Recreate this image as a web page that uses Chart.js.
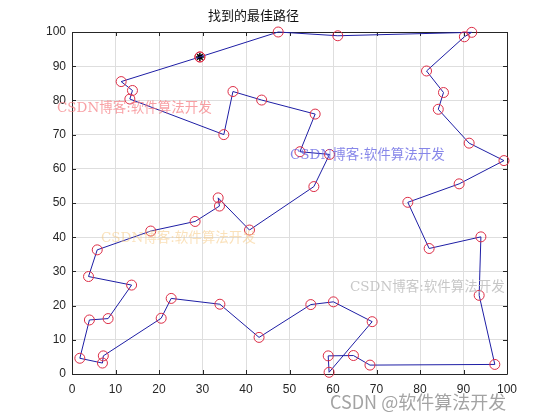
<!DOCTYPE html>
<html>
<head>
<meta charset="utf-8">
<script src="https://cdn.jsdelivr.net/npm/chart.js@4/dist/chart.umd.min.js"></script>
<style>
  html,body{margin:0;padding:0;background:#fff;}
  #wrap{width:560px;height:420px;}
</style>
</head>
<body>
<div id="wrap"><canvas id="chart" width="560" height="420"></canvas></div>
<script>
// 路径坐标 (从起点出发，最后回到起点)
const routeX = [29.4, 47.4, 61.1, 91.9, 90.2, 81.5, 85.4, 84.2, 91.3, 99.3, 89.0, 77.2, 82.1, 94.0, 93.6, 97.2,
  68.5, 64.7, 58.9, 59.1, 69.0, 60.1, 54.9, 43.0, 34.0, 22.8, 20.5, 7.2, 7.0, 1.8, 4.0, 8.3, 13.7, 3.8, 5.8,
  18.1, 28.3, 33.9, 33.6, 40.8, 55.6, 59.2, 52.4, 55.9, 43.6, 37.0, 34.9, 13.3, 13.9, 11.3, 29.4]
const routeY = [92.7, 100, 98.9, 99.9, 98.6, 88.6, 82.3, 77.4, 67.5, 62.4, 55.6, 50.2, 36.7, 40.1, 23.0, 2.8,
  2.6, 5.4, 5.3, 0.5, 15.3, 21.1, 20.3, 10.7, 20.4, 22.1, 16.3, 5.3, 3.2, 4.6, 15.8, 16.2, 26.0, 28.5, 36.3,
  41.8, 44.6, 49.1, 51.5, 42.1, 54.8, 64.2, 65.0, 76.0, 80.1, 82.6, 70.0, 80.4, 82.9, 85.5, 92.7]
// 起点
const startX = [29.4]
const startY = [92.7]
// 刻度
const xTicks = [0, 10, 20, 30, 40, 50, 60, 70, 80, 90, 100]
const yTicks = [0, 10, 20, 30, 40, 50, 60, 70, 80, 90, 100]
const titleText = '找到的最佳路径'
const markText = 'CSDN博客:软件算法开发'
const footText = 'CSDN @软件算法开发'

const routePts = routeX.map((x, i) => ({x: x, y: routeY[i]}))
const startPts = startX.map((x, i) => ({x: x, y: startY[i]}))

// 四边向内的刻度 + 边框
const boxPlugin = {
  id: 'box',
  beforeDatasetsDraw(chart) {
    const c = chart.ctx
    const a = chart.chartArea
    const xs = chart.scales.x, ys = chart.scales.y
    const len = 4
    c.save()
    c.strokeStyle = '#262626'
    c.lineWidth = 1
    c.beginPath()
    c.rect(Math.round(a.left) + 0.5, Math.round(a.top) + 0.5, Math.round(a.right - a.left), Math.round(a.bottom - a.top))
    xTicks.forEach(v => {
      const p = Math.round(xs.getPixelForValue(v)) + 0.5
      c.moveTo(p, a.bottom); c.lineTo(p, a.bottom - len)
      c.moveTo(p, a.top); c.lineTo(p, a.top + len)
    })
    yTicks.forEach(v => {
      const p = Math.round(ys.getPixelForValue(v)) + 0.5
      c.moveTo(a.left, p); c.lineTo(a.left + len, p)
      c.moveTo(a.right, p); c.lineTo(a.right - len, p)
    })
    c.stroke()
    c.restore()
  },
  afterDraw(chart) {
    const c = chart.ctx
    c.save()
    c.textBaseline = 'middle'
    c.font = '13.5px "DejaVu Serif", "Noto Sans CJK SC", serif'
    const marks = [
      {x: 57, y: 108, color: 'rgba(245, 120, 125, 0.7)'},
      {x: 290, y: 155, color: 'rgba(95, 95, 225, 0.75)'},
      {x: 101, y: 238, color: 'rgba(245, 200, 130, 0.55)'},
      {x: 350, y: 287, color: 'rgba(185, 185, 185, 0.8)'}
    ]
    marks.forEach(m => {
      c.fillStyle = m.color
      c.fillText(markText, m.x, m.y)
    })
    c.font = '18px "Noto Sans CJK SC", sans-serif'
    c.fillStyle = 'rgba(140, 140, 140, 0.8)'
    c.fillText(footText, 330, 402)
    c.restore()
  }
}

const ctx = document.getElementById('chart').getContext('2d')
const myChart = new Chart(ctx, {
  type: 'scatter',
  data: {
    datasets: [
      {
        data: routePts,
        showLine: true,
        clip: false,
        borderColor: 'rgb(30, 30, 165)',
        borderWidth: 1,
        pointStyle: 'circle',
        pointRadius: 5,
        pointBorderWidth: 1,
        pointBorderColor: 'rgb(220, 45, 70)',
        pointBackgroundColor: 'rgba(0,0,0,0)'
      },
      {
        data: startPts,
        showLine: false,
        clip: false,
        pointStyle: 'star',
        pointRadius: 4,
        pointBorderWidth: 1.5,
        pointBorderColor: '#000',
        pointBackgroundColor: '#000'
      }
    ]
  },
  options: {
    responsive: false,
    animation: false,
    layout: {padding: {left: 0, right: 53, top: 0, bottom: 0}},
    plugins: {
      legend: {display: false},
      tooltip: {enabled: false},
      title: {
        display: true,
        text: titleText,
        color: '#111',
        font: {family: '"Noto Sans CJK SC", sans-serif', size: 13, weight: 'normal'},
        padding: {top: 7, bottom: 9.4}
      }
    },
    scales: {
      x: {
        type: 'linear',
        min: 0, max: 100,
        afterBuildTicks: s => { s.ticks = xTicks.map(v => ({value: v})) },
        afterFit: s => { s.height = 46 },
        grid: {color: '#dedede', drawTicks: false},
        border: {display: false},
        ticks: {color: '#262626', padding: 8, maxRotation: 0, font: {family: '"Liberation Sans", Arial', size: 12}}
      },
      y: {
        type: 'linear',
        min: 0, max: 100,
        afterBuildTicks: s => { s.ticks = yTicks.map(v => ({value: v})) },
        afterFit: s => { s.width = 72 },
        grid: {color: '#dedede', drawTicks: false},
        border: {display: false},
        ticks: {color: '#262626', padding: 6, font: {family: '"Liberation Sans", Arial', size: 12}}
      }
    }
  },
  plugins: [boxPlugin]
})
</script>
</body>
</html>
